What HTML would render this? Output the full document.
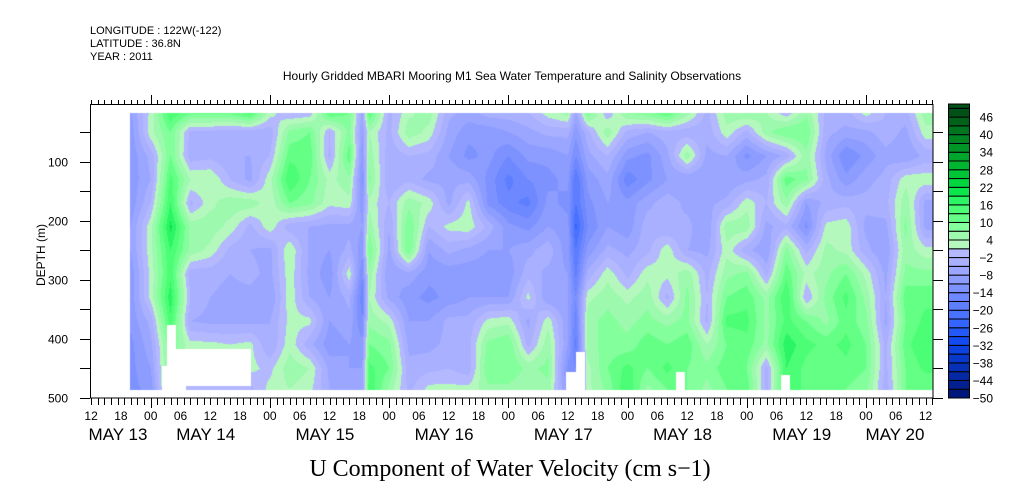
<!DOCTYPE html>
<html><head><meta charset="utf-8"><style>
html,body{margin:0;padding:0;background:#fff;}
#wrap{position:relative;width:1009px;height:504px;overflow:hidden;font-family:"Liberation Sans",sans-serif;}
canvas,svg{position:absolute;left:0;top:0;}
</style></head><body>
<div id="wrap">
<canvas id="cv" width="1009" height="504"></canvas>
<svg id="sv" width="1009" height="504"></svg>
</div>
<script>
// time of each column: hours since 2011-05-13 12:00
const hours = [8,12,16,20,24,28,32,36,40,44,48,52,54.6,56,60,64,68,72,76,80,84,88,92,96,97.6,100,104,108,112,116,120,124,128,132,136,140,144,148,152,156,160,164,168];
// depths (m) of the rows
const depths = [15,50,90,130,170,210,250,290,330,370,410,450,485];
// U velocity (cm/s), one array per time column, values by depth
const uVel = [
[-8,-10,-10,-10,-10,-8,-8,-10,-10,-10,-12,-12,-12],
[2,3,-4,-5,-2,3,3,2,2,-4,-6,-8,-10],
[16,10,10,14,16,20,16,15,18,15,10,10,10],
[12,-3,-4,4,-3,6,6,-4,-2,-5,2,2,2],
[12,-3,-3,4,3,6,3,-4,-5,-6,2,2,2],
[12,-4,-5,-2,6,3,-3,-5,-6,-6,1,1,1],
[16,-4,-5,-6,6,-3,-5,-4,-6,-6,2,2,-3],
[3,-4,-2,3,2,3,-6,-6,-8,-5,-5,0,2],
[-3,8,12,16,10,-4,4,3,3,2,3,6,4],
[-2,10,12,10,8,-5,-6,-6,-5,2,-4,4,2],
[14,-2,-3,3,2,-6,-8,-10,-8,-8,-10,-6,-5],
[10,8,12,6,3,-6,-4,3,-4,-6,-8,-8,-6],
[-6,-8,-10,-12,-10,-8,-10,-14,-16,-14,-10,-8,-8],
[14,4,6,8,3,6,10,6,4,6,10,14,16],
[-3,-3,-4,-5,-2,-5,-6,-8,-6,3,8,10,6],
[3,6,-2,-3,6,10,10,-6,-10,-8,-6,-4,-3],
[6,3,-3,-6,3,-2,-8,-10,-12,-8,-6,-3,2],
[-4,-6,-8,-6,-6,2,-4,-10,-10,-4,-4,-2,2],
[-6,-10,-12,-6,2,3,-6,-10,-8,-4,-3,-4,2],
[-3,-10,-10,-12,-12,-3,-8,-10,-8,2,8,10,6],
[-3,-8,-14,-18,-16,-10,-8,-10,-8,3,10,10,6],
[-2,-6,-10,-14,-18,-12,-6,-3,2,-6,-3,6,4],
[3,-4,-10,-12,-10,-8,-3,-6,-8,3,6,8,6],
[6,-4,-8,-10,-12,-10,-10,-8,-8,-8,-8,-12,-10],
[-6,-10,-14,-20,-20,-24,-20,-18,-14,-16,-18,-14,-10],
[10,-3,-6,-10,-12,-14,-10,-4,3,6,6,3,3],
[-2,6,-2,-6,-8,-8,-4,3,6,8,8,10,8],
[8,-3,-10,-16,-10,-10,-6,-3,3,6,8,14,16],
[10,-5,-12,-12,-6,-3,-3,3,6,8,12,10,6],
[14,-3,-6,-8,-3,-5,3,2,-3,6,10,14,10],
[6,-4,6,-8,-6,-4,-5,6,8,8,12,10,10],
[-3,-4,-6,-8,-6,-8,-6,-3,-2,-3,4,8,6],
[6,3,-5,-8,-4,6,3,6,10,14,10,12,10],
[8,-3,-12,-6,3,6,-4,8,12,14,12,10,12],
[4,6,-8,-4,-2,-6,-8,-3,6,6,6,-3,-3],
[-2,10,-4,12,6,-3,8,12,16,14,18,16,16],
[6,10,6,8,-8,-12,-3,3,-2,10,14,12,12],
[-3,-4,-6,-4,-4,2,5,6,8,6,12,10,10],
[-3,-6,-14,-10,-3,3,3,10,14,12,14,12,10],
[3,-6,-10,-6,-4,-6,-4,3,6,8,10,10,8],
[-2,-3,-6,-4,-3,-6,-8,-6,-5,-6,-3,-3,-4],
[-3,-6,-8,3,6,8,6,8,12,10,12,10,10],
[6,3,-4,3,-6,-6,2,8,12,14,16,14,10]
];
const cbarLabels = [46,40,34,28,22,16,10,4,-2,-8,-14,-20,-26,-32,-38,-44,-50];
const hourLabels = ["12","18","00","06","12","18","00","06","12","18","00","06","12","18","00","06","12","18","00","06","12","18","00","06","12","18","00","06","12"];
const dayLabels = ["MAY 13","MAY 14","MAY 15","MAY 16","MAY 17","MAY 18","MAY 19","MAY 20"];
const depthTicks = [100,200,300,400,500];

// axis functions
const X0=91.1, PXH=4.967;
function xOf(h){return X0+h*PXH;}
function hOf(x){return (x-X0)/PXH;}
function yOf(d){return 102.7+d*0.59;}
function dOf(y){return (y-102.7)/0.59;}
function cbY(v){return 398-(v+50)*2.926;}

const negA=[[-1,[180,184,255]],[-7,[152,164,255]],[-13,[124,144,255]],[-19,[90,124,255]],[-25,[48,100,255]],[-31,[16,72,240]],[-37,[8,56,200]],[-43,[4,40,160]],[-49,[0,20,120]]];
const posA=[[2,[184,248,192]],[5,[160,248,176]],[8,[136,255,160]],[11,[104,255,136]],[14,[80,255,120]],[17,[48,248,104]],[20,[16,232,80]],[23,[0,216,64]],[29,[0,184,48]],[35,[0,152,40]],[41,[0,120,32]],[47,[0,80,24]]];
function anc(a,v){
 const s=a.slice().sort((p,q)=>p[0]-q[0]);
 if(v<=s[0][0])return s[0][1]; if(v>=s[s.length-1][0])return s[s.length-1][1];
 for(let i=0;i<s.length-1;i++){if(v>=s[i][0]&&v<=s[i+1][0]){const t=(v-s[i][0])/(s[i+1][0]-s[i][0]);return s[i][1].map((c,k)=>Math.round(c+(s[i+1][1][k]-c)*t));}}
 return s[0][1];}
function boxColor(k){const mid=-50+3*k+1.5; return mid<1?anc(negA,mid):anc(posA,mid);}
function colorOf(v){let k=Math.floor((v+50)/3);k=Math.max(0,Math.min(33,k));return boxColor(k);}

function interp(h,d){
 let i=0; if(h<=hours[0]){i=0;h=hours[0];} else if(h>=hours[hours.length-1]){i=hours.length-2;h=hours[hours.length-1];}
 else {while(hours[i+1]<h)i++;}
 let j=0; if(d<=depths[0]){j=0;d=depths[0];} else if(d>=depths[depths.length-1]){j=depths.length-2;d=depths[depths.length-1];}
 else {while(depths[j+1]<d)j++;}
 const tx=(h-hours[i])/(hours[i+1]-hours[i]), ty=(d-depths[j])/(depths[j+1]-depths[j]);
 const a=uVel[i][j],b=uVel[i+1][j],c=uVel[i][j+1],e=uVel[i+1][j+1];
 return a*(1-tx)*(1-ty)+b*tx*(1-ty)+c*(1-tx)*ty+e*tx*ty;
}
const cv=document.getElementById('cv'),ctx=cv.getContext('2d');
ctx.fillStyle='#fff';ctx.fillRect(0,0,1009,504);
const img=ctx.getImageData(0,0,1009,504);
for(let y=113;y<390;y++){const d=dOf(y+0.5);
 for(let x=130;x<933;x++){const c=colorOf(interp(hOf(x+0.5),d));const p=(y*1009+x)*4;img.data[p]=c[0];img.data[p+1]=c[1];img.data[p+2]=c[2];img.data[p+3]=255;}}
ctx.putImageData(img,0,0);
// missing data gaps
ctx.fillStyle='#fff';
[[162,366,24,24],[167,325,9,65],[172,349,79,37],[566,372,19,18],[576,352,9,38],[676,372,9,18],[781,375,9,15]].forEach(r=>ctx.fillRect(r[0],r[1],r[2],r[3]));
ctx.fillStyle='rgb(180,184,255)';ctx.fillRect(186,386,65,4);

const NS='http://www.w3.org/2000/svg',sv=document.getElementById('sv');
function el(t,a,txt){const e=document.createElementNS(NS,t);for(const k in a)e.setAttribute(k,a[k]);if(txt!==undefined)e.textContent=txt;sv.appendChild(e);return e;}
let e;
e=el('rect',{x:90.5,y:104.5,width:842.5,height:293.5,fill:'none',stroke:'#000','stroke-width':1});


// x ticks
for(let h=0;h<=170;h+=4/3){const x=Math.round(xOf(h))+0.5;if(x>933)break;
 const major=Math.abs((h-12)/24-Math.round((h-12)/24))<1e-6;
 e=el('line',{x1:x,y1:104,x2:x,y2:major?95:100,stroke:'#000'});
 
 
 e=el('line',{x1:x,y1:398,x2:x,y2:major?408:405,stroke:'#000'});
 
 }
hourLabels.forEach((s,i)=>{e=el('text',{x:xOf(i*6),y:420,'font-size':12,'text-anchor':'middle'},s);
 
 });
dayLabels.forEach((s,i)=>{const x=i==0?118:(i==7?895:xOf(12+24*(i-1))+55);
 e=el('text',{x:x,y:440,'font-size':17,'text-anchor':'middle'},s);
 
 });
// y ticks
for(let d=50;d<=500;d+=50){const y=Math.round(yOf(d))+0.5;
 e=el('line',{x1:80,y1:y,x2:90,y2:y,stroke:'#000'});
 
 
 e=el('line',{x1:933,y1:y,x2:943,y2:y,stroke:'#000'});
 
 }
depthTicks.forEach(d=>{e=el('text',{x:68,y:yOf(d)+5,'font-size':12,'text-anchor':'end'},String(d));
 
 });
e=el('text',{x:0,y:0,'font-size':12,'text-anchor':'middle',transform:'translate(45,255) rotate(-90)'},'DEPTH (m)');


// colorbar
for(let k=0;k<34;k++){const v0=-50+3*k,v1=v0+3;const ya=cbY(v1),yb=cbY(v0);const top=Math.max(104,ya);
 if(top>=yb)continue;const c=boxColor(k);
 e=el('rect',{x:948.5,y:top,width:21,height:yb-top,fill:'rgb('+c.join(',')+')',stroke:'#000','stroke-width':1});
 
 }
cbarLabels.forEach(v=>{e=el('text',{x:993,y:cbY(v)+4.5,'font-size':12,'text-anchor':'end'},v<0?'\u2212'+(-v):String(v));
 
 });
// header text
[['LONGITUDE : 122W(-122)',34],['LATITUDE : 36.8N',47],['YEAR : 2011',60]].forEach(t=>{e=el('text',{x:90,y:t[1],'font-size':11},t[0]);
 
 });
e=el('text',{x:512,y:80,'font-size':12,'text-anchor':'middle'},'Hourly Gridded MBARI Mooring M1 Sea Water Temperature and Salinity Observations');


e=el('text',{x:510,y:476,'font-size':24,'text-anchor':'middle','font-family':'"Liberation Serif",serif'},'U Component of Water Velocity (cm s\u22121)');


</script>
</body></html>
